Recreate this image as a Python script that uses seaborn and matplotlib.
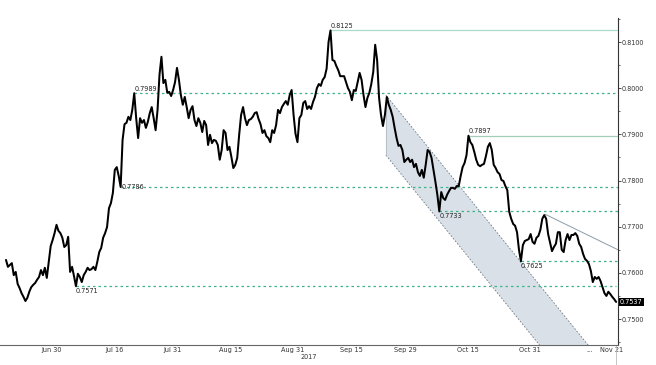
import numpy as np
import pandas as pd
import matplotlib
matplotlib.use("Agg")
import matplotlib.pyplot as plt
import matplotlib.dates as mdates
import matplotlib.transforms as mtransforms
from matplotlib.ticker import FixedLocator, FormatStrFormatter, MultipleLocator
import seaborn as sns

# ---------------- data ----------------
start_time = "2017-06-18 04:00"
step = "12h"
prices = [
    0.7628, 0.7613, 0.7617, 0.7621, 0.7595, 0.7602, 0.7576, 0.7567, 0.7556, 0.7548,
    0.7539, 0.7546, 0.7559, 0.7569, 0.7574, 0.7578, 0.7585, 0.7591, 0.7606, 0.7595,
    0.7611, 0.7589, 0.7624, 0.7658, 0.7671, 0.7686, 0.7704, 0.7691, 0.7686, 0.7676,
    0.7656, 0.7660, 0.7678, 0.7602, 0.7613, 0.7593, 0.7571, 0.7598, 0.7591, 0.7580,
    0.7595, 0.7602, 0.7611, 0.7606, 0.7608, 0.7613, 0.7606, 0.7624, 0.7645, 0.7654,
    0.7676, 0.7686, 0.7699, 0.7740, 0.7751, 0.7773, 0.7823, 0.7829, 0.7810, 0.7786,
    0.7888, 0.7922, 0.7925, 0.7938, 0.7931, 0.7953, 0.7989, 0.7935, 0.7892, 0.7935,
    0.7925, 0.7931, 0.7914, 0.7927, 0.7946, 0.7959, 0.7935, 0.7909, 0.7953, 0.8029,
    0.8068, 0.8011, 0.8018, 0.7990, 0.7992, 0.7983, 0.7996, 0.8013, 0.8044, 0.8018,
    0.7985, 0.7964, 0.7981, 0.7959, 0.7935, 0.7953, 0.7961, 0.7931, 0.7918, 0.7935,
    0.7925, 0.7905, 0.7929, 0.7920, 0.7877, 0.7899, 0.7881, 0.7888, 0.7886, 0.7877,
    0.7845, 0.7866, 0.7909, 0.7903, 0.7866, 0.7873, 0.7851, 0.7827, 0.7834, 0.7849,
    0.7899, 0.7942, 0.7959, 0.7935, 0.7920, 0.7931, 0.7933, 0.7938, 0.7946, 0.7948,
    0.7933, 0.7922, 0.7903, 0.7909, 0.7896, 0.7892, 0.7883, 0.7909, 0.7903, 0.7920,
    0.7953, 0.7946, 0.7959, 0.7966, 0.7972, 0.7964, 0.7985, 0.7996, 0.7942, 0.7901,
    0.7883, 0.7935, 0.7942, 0.7968, 0.7972, 0.7955, 0.7961, 0.7955, 0.7970, 0.7981,
    0.8000, 0.8009, 0.8005, 0.8018, 0.8024, 0.8042, 0.8100, 0.8125, 0.8061, 0.8059,
    0.8048, 0.8039, 0.8026, 0.8026, 0.8026, 0.8013, 0.8000, 0.7992, 0.7974, 0.7996,
    0.7994, 0.8013, 0.8033, 0.8018, 0.7985, 0.7959, 0.7979, 0.7990, 0.8009, 0.8035,
    0.8094, 0.8061, 0.7979, 0.7942, 0.7918, 0.7942, 0.7981, 0.7964, 0.7953, 0.7938,
    0.7914, 0.7892, 0.7875, 0.7877, 0.7866, 0.7840, 0.7845, 0.7849, 0.7840, 0.7845,
    0.7829, 0.7836, 0.7818, 0.7810, 0.7823, 0.7806, 0.7834, 0.7866, 0.7862, 0.7849,
    0.7823, 0.7797, 0.7769, 0.7733, 0.7775, 0.7762, 0.7758, 0.7769, 0.7777, 0.7784,
    0.7784, 0.7782, 0.7788, 0.7788, 0.7810, 0.7829, 0.7838, 0.7855, 0.7897, 0.7883,
    0.7877, 0.7862, 0.7845, 0.7834, 0.7831, 0.7834, 0.7836, 0.7853, 0.7873, 0.7881,
    0.7866, 0.7834, 0.7827, 0.7818, 0.7814, 0.7801, 0.7799, 0.7788, 0.7779, 0.7732,
    0.7717, 0.7706, 0.7702, 0.7688, 0.7650, 0.7625, 0.7660, 0.7669, 0.7671, 0.7673,
    0.7684, 0.7667, 0.7663, 0.7676, 0.7680, 0.7693, 0.7717, 0.7725, 0.7717, 0.7684,
    0.7665, 0.7647, 0.7656, 0.7663, 0.7688, 0.7688, 0.7650, 0.7645, 0.7671, 0.7684,
    0.7671, 0.7682, 0.7682, 0.7686, 0.7680, 0.7663, 0.7656, 0.7641, 0.7630, 0.7626,
    0.7619, 0.7604, 0.7580, 0.7591, 0.7587, 0.7591, 0.7582, 0.7569, 0.7556, 0.7550,
    0.7559, 0.7554, 0.7548, 0.7543, 0.7537,
]
levels_solid = [0.8125, 0.7897]
levels_dashed = [0.7989, 0.7786, 0.7733, 0.7625, 0.7571]
labels_above = [0.8125, 0.7989, 0.7897]
labels_level = [0.7786]
labels_below = [0.7733, 0.7625, 0.7571]
short_levels = [0.7989, 0.7571]
last_price = 0.7537

channel_dates = ["2017-09-23 22:00", "2017-11-15 00:00"]
channel_upper = [0.7985, 0.7443]
channel_width = 0.0130

trend_dates = ["2017-11-03 21:00", "2017-11-22 15:00"]
trend_prices = [0.7727, 0.7650]

tick_dates = ["2017-06-30 00:00", "2017-07-16 00:00", "2017-07-31 00:00", "2017-08-15 00:00",
              "2017-08-31 00:00", "2017-09-15 00:00", "2017-09-29 00:00", "2017-10-15 00:00",
              "2017-10-31 00:00", "2017-11-15 10:00", "2017-11-21 00:00"]
tick_labels = ["Jun 30", "Jul 16", "Jul 31", "Aug 15", "Aug 31", "Sep 15", "Sep 29",
               "Oct 15", "Oct 31", "...", "Nov 21"]
year_label = "2017"
year_date = "2017-09-04"
y_ticks = [0.75, 0.76, 0.77, 0.78, 0.79, 0.80, 0.81]

# ---------------- figure ----------------
sns.set_style("white")
plt.rcParams["font.family"] = ["DejaVu Sans"]

times = pd.date_range(start_time, periods=len(prices), freq=step)
df = pd.DataFrame({"time": times, "price": prices})
price_arr = np.array(prices)

fig = plt.figure(figsize=(6.56, 3.65), dpi=100)
ax = fig.add_axes([0.0, 0.0548, 0.9421, 0.8959])

x0 = pd.Timestamp("2017-06-16 15:00")
x1 = pd.Timestamp("2017-11-22 15:40")
ax.set_xlim(x0, x1)
ax.set_ylim(0.74437, 0.8152)

dash_col = "#3fb48c"
fs = 4.7

# channel
c0 = pd.Timestamp(channel_dates[0]); c1 = pd.Timestamp(channel_dates[1])
slope = (channel_upper[1] - channel_upper[0]) / (c1 - c0).total_seconds()
u_end = channel_upper[0] + slope * (x1 - c0).total_seconds()
cx = [c0, x1, x1, c0]
cy = [channel_upper[0], u_end, u_end - channel_width, channel_upper[0] - channel_width]
ax.fill(cx, cy, color="#d9e0e8", zorder=1, lw=0)
ax.plot([c0, x1], [channel_upper[0], u_end], color="#6f7a84", lw=0.6,
        ls=(0, (2, 2)), zorder=2)
ax.plot([c0, x1], [channel_upper[0] - channel_width, u_end - channel_width],
        color="#6f7a84", lw=0.6, ls=(0, (2, 2)), zorder=2)
ax.plot([c0, c0], [channel_upper[0], channel_upper[0] - channel_width],
        color="#aab4bc", lw=0.5, zorder=2)

# level lines
for lv in levels_solid + levels_dashed:
    i = int(np.argmin(np.abs(price_arr - lv)))
    t = times[i]
    end = times[-1] if lv in short_levels else x1
    if lv in levels_solid:
        col = "#a9dcc8" if lv == 0.8125 else "#a2cdb8"
        ax.plot([t, end], [lv, lv], color=col, lw=0.9, zorder=3)
    else:
        ax.plot([t, end], [lv, lv], color=dash_col, lw=0.9, ls=(0, (2.0, 2.4)), zorder=3)
    if lv in labels_above:
        off, va = (0, 1.0), "bottom"
    elif lv in labels_level:
        off, va = (0.5, 0), "center"
    else:
        off, va = (0, -1.0), "top"
    ax.annotate(f"{lv:.4f}", xy=(t, lv), xytext=off, textcoords="offset points",
                ha="left", va=va, fontsize=fs, color="#222222", zorder=5)

# trend line
ax.plot(pd.to_datetime(trend_dates), trend_prices, color="#8e9ba5", lw=0.7, zorder=2)

# main series
sns.lineplot(data=df, x="time", y="price", color="black", linewidth=1.45, ax=ax,
             zorder=4, legend=False)
ax.set_xlabel("")
ax.set_ylabel("")

# axes styling
for s in ["top", "left"]:
    ax.spines[s].set_visible(False)
ax.spines["bottom"].set_color("#666666")
ax.spines["bottom"].set_linewidth(0.8)
ax.spines["right"].set_color("#333333")
ax.spines["right"].set_linewidth(0.8)

ax.yaxis.tick_right()
ax.set_yticks(y_ticks)
ax.yaxis.set_major_formatter(FormatStrFormatter("%.4f"))
ax.yaxis.set_minor_locator(MultipleLocator(0.005))
ax.tick_params(axis="y", which="major", length=2, width=0.6, pad=0.8,
               labelsize=fs, colors="#333333")
ax.tick_params(axis="y", which="minor", length=1.5, width=0.5, colors="#333333")

tdates = pd.to_datetime(tick_dates)
ax.set_xticks(mdates.date2num(tdates))
ax.set_xticklabels(tick_labels)
mids = [(mdates.date2num(a) + mdates.date2num(b)) / 2 for a, b in zip(tdates[:-2], tdates[1:-1])]
ax.xaxis.set_minor_locator(FixedLocator(mids))
ax.tick_params(axis="x", which="major", length=0, pad=1.5, labelsize=fs, colors="#333333")
ax.tick_params(axis="x", which="minor", length=1.5, width=0.5, colors="#666666")

trans = mtransforms.blended_transform_factory(ax.transData, ax.transAxes)
ax.text(pd.Timestamp(year_date), -0.037, year_label, transform=trans, ha="center",
        va="center", fontsize=fs, color="#333333")
ax.plot([times[-1], times[-1]], [0, -0.06], transform=trans, color="#bbbbbb",
        lw=0.6, clip_on=False)

# last price tag
ax.annotate(f"{last_price:.4f}", xy=(1, last_price), xycoords=("axes fraction", "data"),
            xytext=(1.5, 0), textcoords="offset points", ha="left", va="center",
            fontsize=fs, color="white", annotation_clip=False,
            bbox=dict(boxstyle="square,pad=0.2", fc="black", ec="none"))

fig.savefig("out.png", dpi=100)
